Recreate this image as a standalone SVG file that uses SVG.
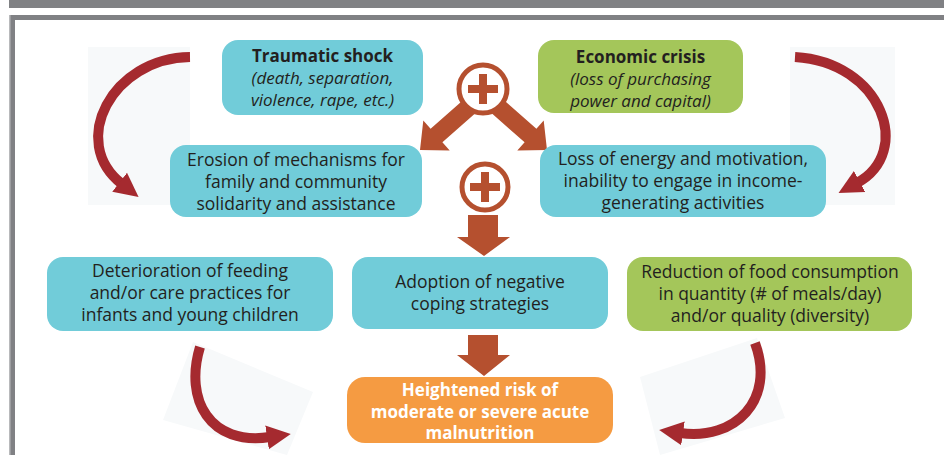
<svg xmlns="http://www.w3.org/2000/svg" width="944" height="455" viewBox="0 0 944 455">
<style>
.box{stroke:none}
.teal{fill:#71CCD9}
.green{fill:#A4C65A}
.orange{fill:#F59B42}
.t{font-family:"Open Sans","Liberation Sans",sans-serif;font-size:17.5px;fill:#231F20;text-anchor:middle}
.b{font-weight:bold;font-size:17px}
.i{font-style:italic;font-size:17px}
.w{fill:#ffffff;font-weight:bold;font-size:17px}
.blk{fill:#B5502F}
.curve{fill:none;stroke:#A52A2F;stroke-width:10;stroke-linecap:butt;marker-end:url(#ch)}
.bg{fill:#F7F9FA}
.plus{fill:#ffffff;stroke:#B5502F;stroke-width:5}
</style>
<defs>
<marker id="ch" markerUnits="userSpaceOnUse" markerWidth="28" markerHeight="28" refX="3" refY="14" orient="auto">
<path d="M0,2 L24,14 L0,26 Z" fill="#A52A2F"/>
</marker>
</defs>
<rect x="0" y="0" width="944" height="455" fill="#ffffff"/>
<rect x="9" y="0" width="935" height="8" fill="#808184"/>
<rect x="9" y="15" width="935" height="5" fill="#808184"/>
<rect x="9" y="15" width="6" height="440" fill="#808184"/>
<rect x="9" y="15" width="1.5" height="440" fill="#B8B9BB"/>

<g id="connectors">
<rect class="bg" x="88" y="47" width="102" height="158"/>
<rect class="bg" x="790" y="47" width="105" height="158"/>
<polygon class="bg" points="193,342 313,392 287,455 163,420"/>
<polygon class="bg" points="640,377 757,338 785,418 660,455"/>
<path class="curve" d="M190,57 C112,58 68,142 122,184"/>
<path class="curve" d="M795,57 C882,62 914,152 857,183"/>
<path class="curve" d="M200,347 C184,400 210,446 270,437"/>
<path class="curve" d="M755,343 C776,400 735,441 680,433"/>
<polygon class="blk" points="475.9,112.8 442.4,142.3 449.7,150.5 420,150 423.3,120.5 430.6,128.7 464.1,99.2"/>
<polygon class="blk" points="491.1,112.8 524.6,142.3 517.3,150.5 547,150 543.7,120.5 536.4,128.7 502.9,99.2"/>
<polygon class="blk" points="468,215 498,215 498,237 510,237 484,256 457,237 468,237"/>
<polygon class="blk" points="468,335 498,335 498,355 510,355 484,376 457,355 468,355"/>
</g>

<g id="plus1">
<circle class="plus" cx="483" cy="89" r="24"/>
<rect class="blk" x="468" y="85" width="30" height="8"/>
<rect class="blk" x="479" y="74" width="8" height="30"/>
</g>
<g id="plus2">
<circle class="plus" cx="485" cy="187" r="23"/>
<rect class="blk" x="470" y="183" width="30" height="8"/>
<rect class="blk" x="481" y="172" width="8" height="30"/>
</g>

<g id="traumatic">
<rect class="box teal" x="222" y="40" width="201" height="75" rx="16"/>
<text class="t b" x="322.5" y="62">Traumatic shock</text>
<text class="t i" x="322.5" y="84">(death, separation,</text>
<text class="t i" x="322.5" y="106">violence, rape, etc.)</text>
</g>
<g id="economic">
<rect class="box green" x="538" y="40" width="205" height="73" rx="16"/>
<text class="t b" x="640.5" y="63">Economic crisis</text>
<text class="t i" x="640.5" y="85">(loss of purchasing</text>
<text class="t i" x="640.5" y="107">power and capital)</text>
</g>
<g id="erosion">
<rect class="box teal" x="170" y="145" width="252" height="72" rx="16"/>
<text class="t" x="296" y="166">Erosion of mechanisms for</text>
<text class="t" x="296" y="188">family and community</text>
<text class="t" x="296" y="210">solidarity and assistance</text>
</g>
<g id="loss">
<rect class="box teal" x="540" y="145" width="286" height="72" rx="16"/>
<text class="t" x="683" y="165">Loss of energy and motivation,</text>
<text class="t" x="683" y="187">inability to engage in income-</text>
<text class="t" x="683" y="209">generating activities</text>
</g>
<g id="deterioration">
<rect class="box teal" x="47" y="257" width="286" height="74" rx="16"/>
<text class="t" x="190" y="277">Deterioration of feeding</text>
<text class="t" x="190" y="299">and/or care practices for</text>
<text class="t" x="190" y="321">infants and young children</text>
</g>
<g id="adoption">
<rect class="box teal" x="352" y="257" width="256" height="72" rx="16"/>
<text class="t" x="480" y="288">Adoption of negative</text>
<text class="t" x="480" y="310">coping strategies</text>
</g>
<g id="reduction">
<rect class="box green" x="627" y="257" width="285" height="74" rx="16"/>
<text class="t" x="770" y="278">Reduction of food consumption</text>
<text class="t" x="770" y="300">in quantity (# of meals/day)</text>
<text class="t" x="770" y="322">and/or quality (diversity)</text>
</g>
<g id="heightened">
<rect class="box orange" x="347" y="377" width="266" height="66" rx="18"/>
<text class="t w" x="480" y="396">Heightened risk of</text>
<text class="t w" x="480" y="418">moderate or severe acute</text>
<text class="t w" x="480" y="439">malnutrition</text>
</g>
</svg>
